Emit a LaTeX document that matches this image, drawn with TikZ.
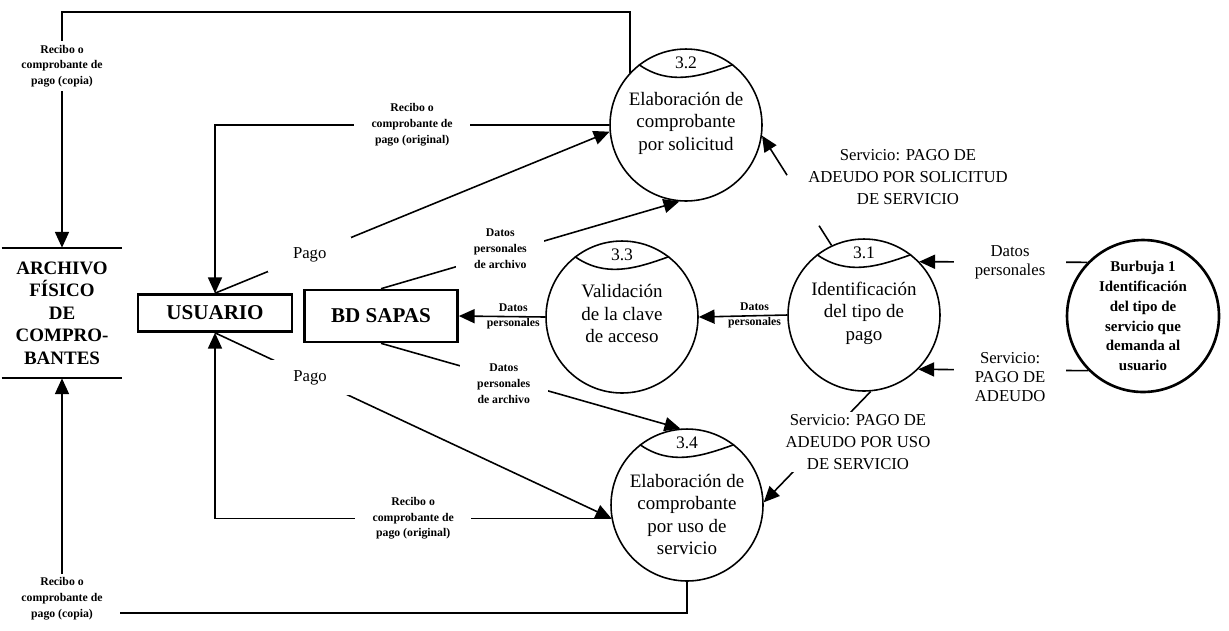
\documentclass[tikz,border=0pt]{standalone}
\usepackage{fontspec}
\setmainfont{Liberation Serif}
\usetikzlibrary{arrows.meta,calc}
\tikzset{>={Triangle[length=9pt,width=8pt]}}
\tikzset{
  proceso/.style={draw, circle, line width=0.9pt, minimum size=3.04cm, inner sep=0pt},
  texto/.style={align=center, font=\fontsize{10.8}{12.8}\selectfont},
  entidad/.style={draw, line width=1.5pt, inner sep=0pt, font=\fontsize{12}{14}\selectfont\bfseries},
  flujo/.style={->, line width=0.9pt},
  etq/.style={align=center, fill=white, inner xsep=10pt, inner ysep=2pt, font=\fontsize{6.7}{9}\selectfont\bfseries},
  dp/.style={align=center, inner sep=0pt, font=\fontsize{6.7}{8.5}\selectfont\bfseries},
  pago/.style={fill=white, inner xsep=14pt, inner ysep=6pt, font=\fontsize{9.5}{11}\selectfont},
  lat/.style={align=center, fill=white, inner xsep=12pt, inner ysep=1pt, font=\fontsize{9.5}{10.8}\selectfont},
  serv/.style={align=center, inner sep=1.5pt, font=\fontsize{9.5}{12.5}\selectfont},
}
% burbuja con encabezado: [ajuste del texto] nombre, posicion, numero, texto
\newcommand\burbuja[5][0pt]{%
  \node[proceso] (#2) at (#3) {};
  \draw[line width=0.9pt] (#2.128) to[out=-35,in=200] (#2.52);
  \node[font=\fontsize{10}{12}\selectfont] (#2n) at ([yshift=-8.5pt]#2.north) {#4};
  \node[texto] (#2t) at ([yshift=#1]#2.center) {#5};
}

\begin{document}
\begin{tikzpicture}[x=0.02cm, y=-0.02cm]
\useasboundingbox (0,0) rectangle (1229,630);

\burbuja[1pt]{c32}{686,125}{3.2}{Elaboración de\\comprobante\\por solicitud}
\burbuja[2pt]{c33}{622,317}{3.3}{Validación\\de la clave\\de acceso}
\burbuja[1pt]{c31}{864,315}{3.1}{Identificación\\del tipo de\\pago}
\burbuja[-5.5pt]{c34}{687,505}{3.4}{Elaboración de\\comprobante\\por uso de\\servicio}
\node[proceso, line width=1.5pt, align=center, font=\fontsize{8.5}{11.3}\selectfont\bfseries] (bur) at (1143,316)
  {Burbuja 1\\Identificación\\del tipo de\\servicio que\\demanda al\\usuario};

\node[entidad, minimum width=3.08cm, minimum height=0.74cm] (usu) at (215,313) {USUARIO};
\node[entidad, minimum width=3.06cm, minimum height=1.04cm] (bd) at (381,316) {BD SAPAS};
\node[align=center, inner sep=0pt, minimum width=2.4cm, minimum height=2.6cm,
  font=\fontsize{10.8}{12.75}\selectfont\bfseries] (arch) at (62,313) {ARCHIVO\\FÍSICO\\DE\\COMPRO-\\BANTES};
\draw[line width=1pt] (arch.north west) -- (arch.north east) (arch.south west) -- (arch.south east);

% copias al archivo
\coordinate (ka) at (62,12);
\coordinate (kb) at (62,613);
\draw[flujo] (c32.137) |- (ka) -- node[etq, pos=.23] {Recibo o\\comprobante de\\pago (copia)} (arch.north);
\draw[flujo] (c34.south) |- (kb) -- node[etq, pos=.06] {Recibo o\\comprobante de\\pago (copia)} (arch.south);

% originales al usuario
\draw[flujo] (c32.west) -| node[etq, pos=.25] {Recibo o\\comprobante de\\pago (original)} (usu.north);
\draw[flujo] (c34.190) -| node[etq, pos=.25] {Recibo o\\comprobante de\\pago (original)} (usu.south);

% pagos
\draw[flujo] (usu.north) -- node[pago, pos=.24] {Pago} (c32.185);
\draw[flujo] (usu.south) -- node[pago, pos=.24] {Pago} (c34.190);

% datos de archivo
\draw[flujo] (bd.north) -- node[etq, pos=.4, yshift=3pt] {Datos\\personales\\de archivo} (c32.265);
\draw[flujo] (bd.south) -- node[etq, pos=.41, yshift=-3pt] {Datos\\personales\\de archivo} (c34.95);
\draw[flujo] (c33.west) -- node[dp, pos=.37] {Datos\\personales} (bd.east);
\draw[flujo] (c31.west) -- node[dp, pos=.37] {Datos\\personales} (c33.east);

% tipo de servicio
\draw[line width=0.9pt] (c31.115) -- ($(c31.115)!.18!(c32.-8)$);
\draw[flujo] ($(c31.115)!.64!(c32.-8)$) -- (c32.-8);
\node[serv] (s1) at (908,177) {Servicio: PAGO DE\\ADEUDO POR SOLICITUD\\DE SERVICIO};
\draw[flujo] (c31.-85) -- (c34.2);
\node[serv, fill=white] (s2) at (858,442) {Servicio: PAGO DE\\ADEUDO POR USO\\DE SERVICIO};

% desde burbuja 1
\draw[flujo] (bur.136) -- node[lat, pos=.46] {Datos\\personales} (c31.44);
\draw[flujo] (bur.225) -- node[lat, pos=.46, yshift=-4pt] {Servicio:\\PAGO DE\\ADEUDO} (c31.-45);
\end{tikzpicture}
\end{document}
